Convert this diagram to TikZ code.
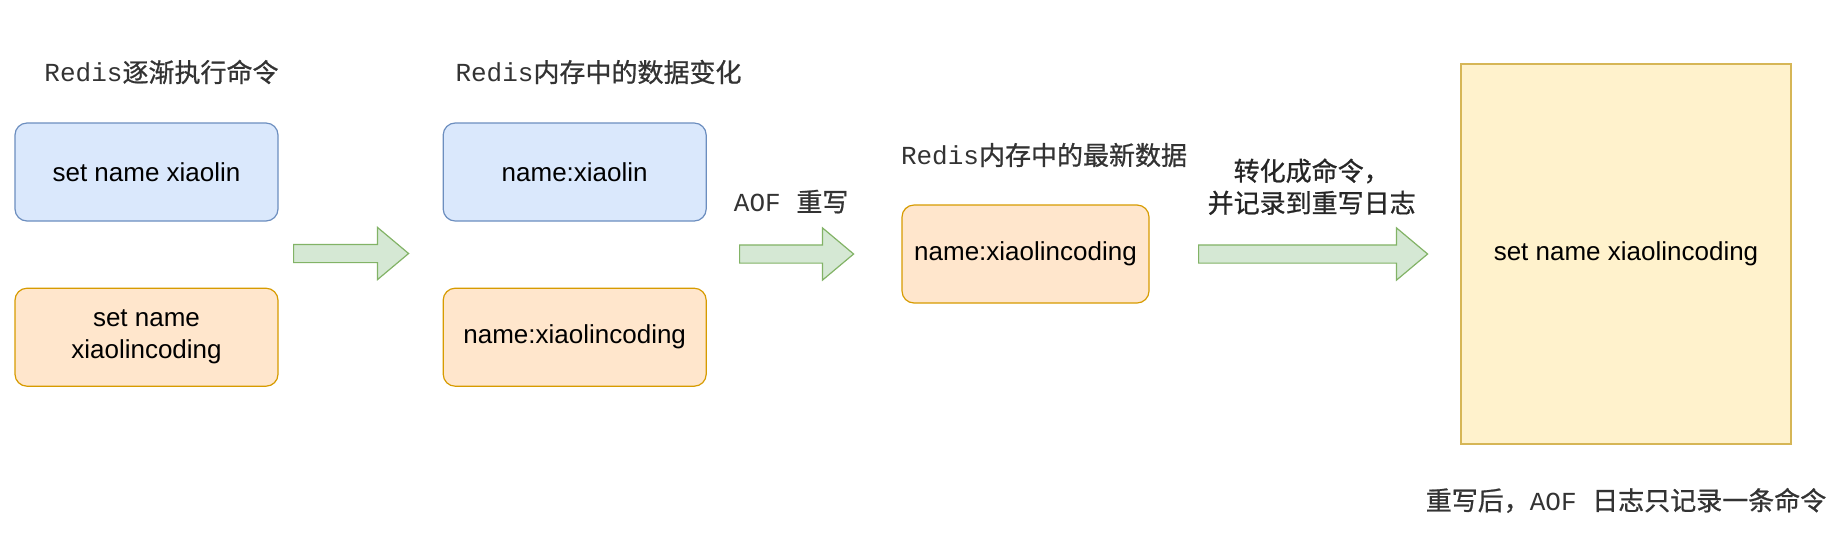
\documentclass[tikz,border=0pt]{standalone}
\usepackage{fontspec}
\setmainfont{Liberation Sans}
\setmonofont{Liberation Mono}
\newfontfamily\cjk[FakeBold=0.8]{Noto Sans CJK SC}
\newcommand{\chino}[1]{{\cjk #1}}
\usepackage{tikz}
\usetikzlibrary{positioning,shapes.arrows}
\definecolor{azulfondo}{HTML}{DAE8FC}
\definecolor{azulborde}{HTML}{6C8EBF}
\definecolor{naranjafondo}{HTML}{FFE6CC}
\definecolor{naranjaborde}{HTML}{D79B00}
\definecolor{amarillofondo}{HTML}{FFF2CC}
\definecolor{amarilloborde}{HTML}{D6B656}
\definecolor{verdefondo}{HTML}{D5E8D4}
\definecolor{verdeborde}{HTML}{82B366}

\begin{document}
\begin{tikzpicture}[x=0.5pt,y=-0.5pt]
\tikzset{
    caja/.style={rectangle, rounded corners=6pt, line width=0.6pt, minimum width=131.5pt,
                 minimum height=49pt, inner sep=0pt, align=center, font=\fontsize{13}{16}\selectfont},
    azul/.style={caja, draw=azulborde, fill=azulfondo},
    naranja/.style={caja, draw=naranjaborde, fill=naranjafondo},
    flechagrande/.style={single arrow, draw=verdeborde, fill=verdefondo, line width=0.6pt,
                 inner sep=4.25pt, minimum width=0pt, single arrow head extend=8.5pt,
                 single arrow tip angle=80, anchor=tail},
    titulo/.style={text=black!80, inner sep=0pt, font=\fontsize{13}{16}\selectfont},
    etiqueta/.style={text=black!85, inner sep=0pt, align=center, font=\fontsize{13}{16}\selectfont}
}
\useasboundingbox (0,0) rectangle (1840,548);

% comandos
\node[azul] (cmd1) at (146.5,172) {set name xiaolin};
\node[naranja, below=33pt of cmd1] (cmd2) {set name\\xiaolincoding};
\node[titulo] (tcmd) at (161.5,72) {\texttt{Redis}\chino{逐渐执行命令}};

% memoria
\node[azul, right=82pt of cmd1] (mem1) {name:xiaolin};
\node[naranja, below=33pt of mem1] (mem2) {name:xiaolincoding};
\node[titulo] (tmem) at (598.5,72) {\texttt{Redis}\chino{内存中的数据变化}};

% ultimo dato
\node[naranja, minimum width=123.5pt] (ult) at (1025.5,254) {name:xiaolincoding};
\node[titulo] (tult) at (1044,155) {\texttt{Redis}\chino{内存中的最新数据}};

% registro aof
\node[caja, rounded corners=0pt, draw=amarilloborde, fill=amarillofondo,
      minimum width=165pt, minimum height=190pt] (aof) at (1626,254) {set name xiaolincoding};
\node[titulo, below=21.5pt of aof] (taof) {\chino{重写后，}\texttt{AOF }\chino{日志只记录一条命令}};

% flechas
\node[flechagrande, minimum height=57.5pt] (f1) at (293,253.5) {};
\node[flechagrande, minimum height=57pt] (f2) at (739,254) {};
\node[flechagrande, minimum height=114.5pt] (f3) at (1198,254) {};
\node[titulo, above=15.3pt of f2] (tf2) {\texttt{AOF }\chino{重写}};
\node[etiqueta, above=14.5pt of f3, xshift=2pt] (tf3) {\chino{转化成命令，}\\\chino{并记录到重写日志}};

\end{tikzpicture}
\end{document}
